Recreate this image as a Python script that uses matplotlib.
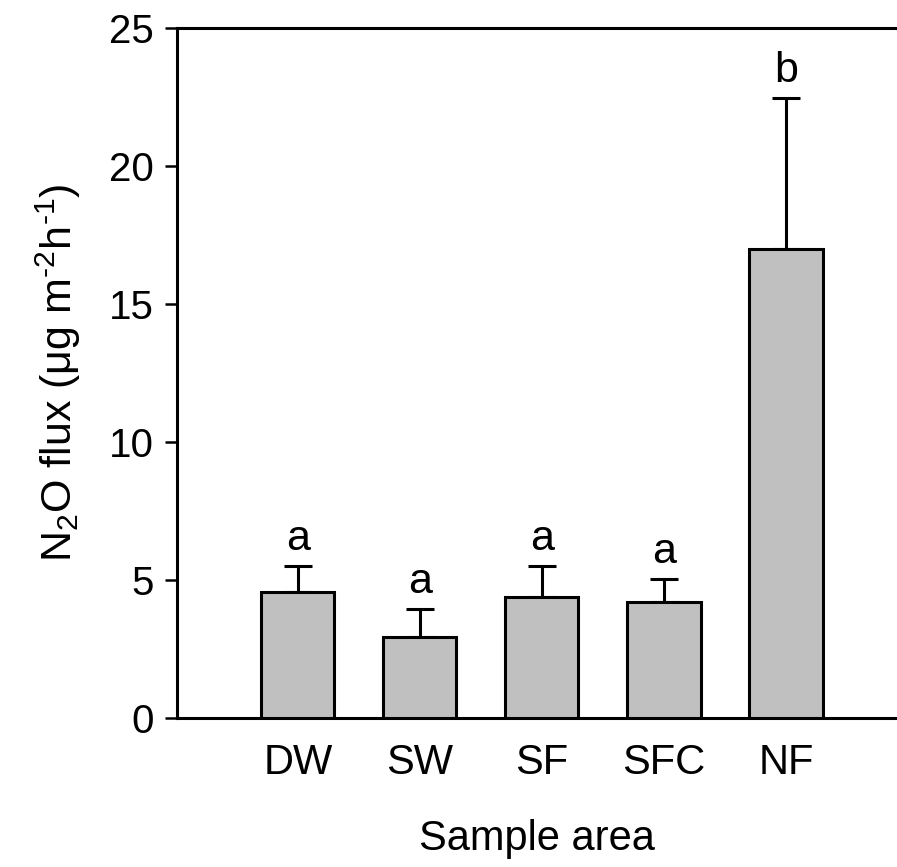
import matplotlib.pyplot as plt

plt.rcParams['font.family'] = ['Liberation Sans', 'DejaVu Sans']
plt.rcParams['mathtext.fontset'] = 'custom'
plt.rcParams['mathtext.rm'] = 'Liberation Sans'
plt.rcParams['mathtext.it'] = 'Liberation Sans'

areas = ['DW', 'SW', 'SF', 'SFC', 'NF']
flux = [4.57, 2.95, 4.4, 4.2, 17.0]
err = [0.94, 0.99, 1.1, 0.85, 5.45]
letters = ['a', 'a', 'a', 'a', 'b']

fig = plt.figure(figsize=(8.97, 8.67), dpi=100)
ax = fig.add_axes([177 / 897, 1 - 718 / 867, 1 - 177 / 897, 690 / 867])

x = list(range(len(areas)))
ax.bar(x, flux, width=0.6, color='#c0c0c0', edgecolor='black', linewidth=2.2, zorder=3)
ax.errorbar(x, flux, yerr=[[0] * len(err), err], fmt='none', ecolor='black',
            elinewidth=2.2, capsize=10, capthick=2.2, zorder=2)
for xi, f, e, t in zip(x, flux, err, letters):
    ax.text(xi, f + e + 0.25, t, ha='center', va='bottom', fontsize=31)

ax.set_xlim(-0.99, 4.91)
ax.set_ylim(0, 25)
ax.set_yticks([0, 5, 10, 15, 20, 25])
ax.set_xticks(x)
ax.set_xticklabels(areas)
ax.tick_params(axis='y', direction='out', length=9, width=1.8, labelsize=29, pad=8)
ax.tick_params(axis='x', length=0, labelsize=30, pad=18)
ax.spines['right'].set_visible(False)
for s in ['left', 'top', 'bottom']:
    ax.spines[s].set_linewidth(2.2)

ax.set_xlabel('Sample area', fontsize=30, labelpad=26)
ax.set_ylabel('N$_2$O flux ($\\mu$g m$^{\\text{-2}}$h$^{\\text{-1}}$)', fontsize=31, labelpad=18)

fig.savefig('out.png', dpi=100)
